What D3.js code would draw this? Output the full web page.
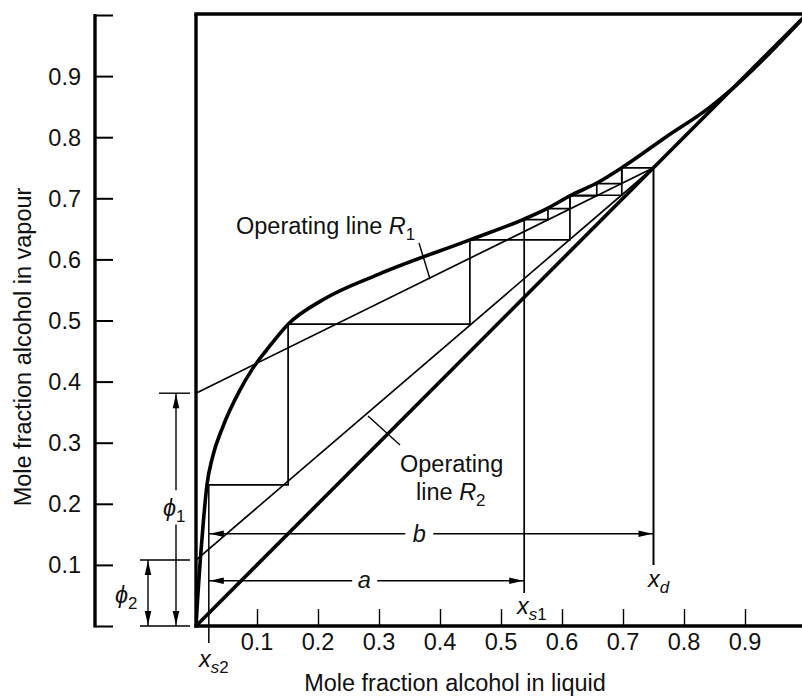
<!DOCTYPE html>
<html><head><meta charset="utf-8">
<script src="https://cdn.jsdelivr.net/npm/d3@7"></script>
<style>body{margin:0;background:#fff}svg{display:block}text{font-family:"Liberation Sans",Arial,sans-serif;fill:#111}</style>
</head><body>
<svg id="c" width="802" height="698"></svg>
<script>
// ---- data ----
const xTicks = [0.1,0.2,0.3,0.4,0.5,0.6,0.7,0.8,0.9];
const yTicks = [0.1,0.2,0.3,0.4,0.5,0.6,0.7,0.8,0.9];
const tickLabels = ["0.1","0.2","0.3","0.4","0.5","0.6","0.7","0.8","0.9"];
const eqX = [0,0.003,0.007,0.012,0.018,0.027,0.044,0.072,0.092,0.116,0.151,0.208,0.3,0.449,0.538,0.577,0.613,0.657,0.698,0.77,0.841,0.88,1];
const eqY = [0,0.05,0.108,0.17,0.231,0.276,0.326,0.386,0.42,0.452,0.494,0.534,0.576,0.632,0.666,0.684,0.704,0.725,0.75,0.80,0.848,0.88,1];
const xd = 0.75, xs1 = 0.538, xs2 = 0.021;
const r1Intercept = 0.381, r2Intercept = 0.108;
const stepsR1X = [0.75,0.698,0.698,0.657,0.657,0.613,0.613,0.577,0.577,0.538];
const stepsR1Y = [0.75,0.75,0.724,0.724,0.704,0.704,0.683,0.683,0.665,0.665];
const stepsR2X = [0.75,0.698,0.698,0.613,0.613,0.449,0.449,0.151,0.151,0.021];
const stepsR2Y = [0.75,0.75,0.705,0.705,0.632,0.632,0.494,0.494,0.231,0.231];
const bLevel = 0.151, aLevel = 0.074;
const phi1 = r1Intercept, phi2 = r2Intercept;

// ---- scales ----
const svg = d3.select("#c");
const x = d3.scaleLinear().domain([0,1]).range([196,806]);
const y = d3.scaleLinear().domain([0,1]).range([626,15]);
const g = svg.append("g");
const line = d3.line().x(d=>x(d[0])).y(d=>y(d[1]));
const zip = (a,b)=>a.map((v,i)=>[v,b[i]]);
const FS = 23.5;

// frame
g.append("line").attr("x1",x(0)).attr("x2",x(0)).attr("y1",y(1)-1).attr("y2",y(0)+1.5).attr("stroke","#000").attr("stroke-width",3.4);
g.append("line").attr("x1",x(0)-1.7).attr("x2",802).attr("y1",y(1)-1).attr("y2",y(1)-1).attr("stroke","#000").attr("stroke-width",3.4);

// x axis
const xAxis = d3.axisTop(x).tickValues(xTicks).tickSize(17).tickFormat("");
const xa = g.append("g").attr("transform",`translate(0,${y(0)})`).call(xAxis);
xa.select(".domain").remove();
xa.selectAll(".tick line").attr("stroke","#000").attr("stroke-width",1.4);
g.append("line").attr("x1",x(0)-1.7).attr("x2",802).attr("y1",y(0)).attr("y2",y(0)).attr("stroke","#000").attr("stroke-width",3.4);
g.selectAll(".xl").data(xTicks).join("text").attr("class","xl")
  .attr("x",d=>x(d)).attr("y",650).attr("text-anchor","middle").attr("font-size",FS)
  .text((d,i)=>tickLabels[i]);

// y axis (separate, left)
const yAxisX = 95;
const yAxis = d3.axisRight(y).tickValues([0].concat(yTicks,[1])).tickSize(18).tickFormat("");
const ya = g.append("g").attr("transform",`translate(${yAxisX},0)`).call(yAxis);
ya.select(".domain").remove();
ya.selectAll(".tick line").attr("stroke","#000").attr("stroke-width",2);
g.append("line").attr("x1",yAxisX).attr("x2",yAxisX).attr("y1",y(1)-1).attr("y2",y(0)+1.5).attr("stroke","#000").attr("stroke-width",3.4);
g.selectAll(".yl").data(yTicks).join("text").attr("class","yl")
  .attr("x",yAxisX-14).attr("y",d=>y(d)).attr("dy","0.36em").attr("text-anchor","end").attr("font-size",FS)
  .text((d,i)=>tickLabels[i]);

// axis titles
g.append("text").attr("x",455).attr("y",691).attr("text-anchor","middle").attr("font-size",FS).text("Mole fraction alcohol in liquid");
g.append("text").attr("transform","translate(31,347) rotate(-90)").attr("text-anchor","middle").attr("font-size",FS).text("Mole fraction alcohol in vapour");

// clip
svg.append("defs").append("clipPath").attr("id","pc").append("rect").attr("x",x(0)).attr("y",y(1)).attr("width",802-x(0)).attr("height",y(0)-y(1));
const p = g.append("g").attr("clip-path","url(#pc)");

// diagonal
p.append("path").attr("d",line([[0,0],[1,1]])).attr("stroke","#000").attr("stroke-width",3.6).attr("fill","none");
// equilibrium curve
p.append("path").attr("d",d3.line().x(d=>x(d[0])).y(d=>y(d[1])).curve(d3.curveMonotoneX)(zip(eqX,eqY)))
  .attr("stroke","#000").attr("stroke-width",3.6).attr("fill","none");
// operating lines
p.append("path").attr("d",line([[0,r1Intercept],[xd,xd]])).attr("stroke","#000").attr("stroke-width",1.7).attr("fill","none");
p.append("path").attr("d",line([[0,r2Intercept],[xd,xd]])).attr("stroke","#000").attr("stroke-width",1.7).attr("fill","none");
// steps
p.append("path").attr("d",line(zip(stepsR1X,stepsR1Y))).attr("stroke","#000").attr("stroke-width",1.7).attr("fill","none");
p.append("path").attr("d",line(zip(stepsR2X,stepsR2Y))).attr("stroke","#000").attr("stroke-width",1.7).attr("fill","none");

// verticals xd, xs1, xs2
g.append("line").attr("x1",x(xd)).attr("x2",x(xd)).attr("y1",y(xd)).attr("y2",y(0.1)).attr("stroke","#000").attr("stroke-width",2);
g.append("line").attr("x1",x(xs1)).attr("x2",x(xs1)).attr("y1",y(0.665)).attr("y2",y(0.054)).attr("stroke","#000").attr("stroke-width",1.7);
g.append("line").attr("x1",x(xs2)).attr("x2",x(xs2)).attr("y1",y(0.231)).attr("y2",y(-0.028)).attr("stroke","#000").attr("stroke-width",1.5);

// arrowhead helper
function arrowHead(px,py,dir){
  const L=14,W=3.3; let pts;
  if(dir==='l') pts=[[px,py],[px+L,py-W],[px+L,py+W]];
  if(dir==='r') pts=[[px,py],[px-L,py-W],[px-L,py+W]];
  if(dir==='u') pts=[[px,py],[px-W,py+L],[px+W,py+L]];
  if(dir==='d') pts=[[px,py],[px-W,py-L],[px+W,py-L]];
  g.append("path").attr("d","M"+pts.join("L")+"Z").attr("fill","#000");
}
function hline(x1,x2,yy,w){g.append("line").attr("x1",x1).attr("x2",x2).attr("y1",yy).attr("y2",yy).attr("stroke","#000").attr("stroke-width",w||1.4);}
function vline(xx,y1,y2,w){g.append("line").attr("x1",xx).attr("x2",xx).attr("y1",y1).attr("y2",y2).attr("stroke","#000").attr("stroke-width",w||1.4);}

// b arrow
const by=y(bLevel);
hline(x(xs2),x(0.343),by); hline(x(0.389),x(xd),by);
arrowHead(x(xs2)+1,by,'l'); arrowHead(x(xd)-1,by,'r');
g.append("text").attr("x",x(0.366)).attr("y",by).attr("dy","0.35em").attr("text-anchor","middle").attr("font-size",FS).attr("font-style","italic").text("b");
// a arrow
const ay=y(aLevel);
hline(x(xs2),x(0.256),ay); hline(x(0.297),x(xs1),ay);
arrowHead(x(xs2)+1,ay,'l'); arrowHead(x(xs1)-1,ay,'r');
g.append("text").attr("x",x(0.276)).attr("y",ay).attr("dy","0.32em").attr("text-anchor","middle").attr("font-size",FS).attr("font-style","italic").text("a");

// phi annotations
const p1x=176, p2x=148;
hline(159,190,y(phi1)); hline(140,190,y(phi2)); hline(140,190,y(0));
vline(p1x,y(phi1),y(0.222)); vline(p1x,y(0.166),y(0));
arrowHead(p1x,y(phi1)+1,'u'); arrowHead(p1x,y(0)-1,'d');
vline(p2x,y(phi2),y(0)); arrowHead(p2x,y(phi2)+1,'u'); arrowHead(p2x,y(0)-1,'d');
// main italic + subscript (letters italic, digits upright)
function sub(main,s,xx,yy,fs){
  const tx=g.append("text").attr("x",xx).attr("y",yy).attr("font-size",fs);
  tx.append("tspan").attr("font-style","italic").text(main);
  const letters=s.replace(/[0-9]/g,""), digits=s.replace(/[^0-9]/g,"");
  const t=tx.append("tspan").attr("font-size",fs*0.72).attr("dy",fs*0.25);
  if(letters){ t.attr("font-style","italic").text(letters); if(digits) tx.append("tspan").attr("font-size",fs*0.72).text(digits); }
  else t.text(digits);
  return tx;
}
sub("ϕ","1",163,516,FS);
sub("ϕ","2",115,603,FS);

// labels
sub("x","d",648,587,FS);
sub("x","s1",517,614,FS);
sub("x","s2",199,667,FS);

// operating line labels
const t1=g.append("text").attr("x",236).attr("y",234).attr("font-size",FS);
t1.append("tspan").text("Operating line ");
t1.append("tspan").attr("font-style","italic").text("R");
t1.append("tspan").attr("font-size",FS*0.72).attr("dy",6).text("1");
g.append("line").attr("x1",419).attr("y1",243).attr("x2",430).attr("y2",279).attr("stroke","#000").attr("stroke-width",1.4);

g.append("text").attr("x",400).attr("y",472).attr("font-size",FS).text("Operating");
const t2=g.append("text").attr("x",416).attr("y",500).attr("font-size",FS);
t2.append("tspan").text("line ");
t2.append("tspan").attr("font-style","italic").text("R");
t2.append("tspan").attr("font-size",FS*0.72).attr("dy",6).text("2");
g.append("line").attr("x1",368).attr("y1",416).attr("x2",400).attr("y2",445).attr("stroke","#000").attr("stroke-width",1.4);
</script>
</body></html>
